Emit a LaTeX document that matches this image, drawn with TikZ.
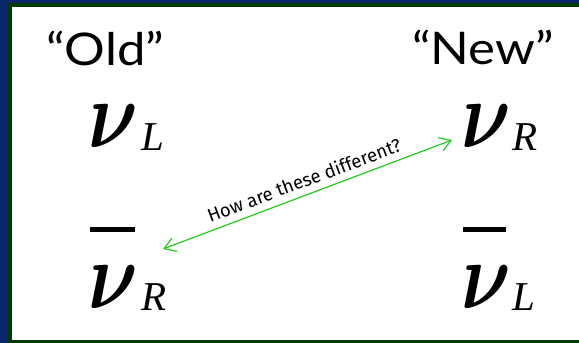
\documentclass[tikz,border=0pt]{standalone}
\usepackage{fontspec}
\usepackage{bm}
\usepackage{graphicx}
\setmainfont{Liberation Serif}
\newfontfamily\titlefont{Lato}
\newfontfamily\notefont{Fira Sans}
\usetikzlibrary{arrows.meta}
\definecolor{navybg}{RGB}{12,38,108}
\definecolor{frame}{RGB}{0,58,0}
\definecolor{arrowgreen}{RGB}{34,204,34}
\newcommand{\bignu}{\scalebox{7.7}[9.6]{$\bm{\nu}$}}
\tikzset{
  heading/.style={anchor=base west, inner sep=0pt, xscale=1.13, font=\titlefont\fontsize{45}{45}\selectfont},
  nu/.style={anchor=base west, inner sep=0pt},
  sub/.style={anchor=base west, inner sep=0pt, font=\fontsize{41}{41}\selectfont\itshape},
  barline/.style={line width=4.5pt, black},
  link/.style={draw=arrowgreen, line width=1.2pt, {Straight Barb[length=11pt,width=14pt]}-{Straight Barb[length=11pt,width=14pt]}},
  note/.style={inner sep=0pt, font=\notefont\fontsize{18.5}{18.5}\selectfont}
}
\begin{document}
\begin{tikzpicture}[x=1pt,y=-1pt]
\useasboundingbox (0,0) rectangle (579,343);
\fill[navybg] (0,0) rectangle (579,343);
\fill[frame] (8,3) rectangle (579,343);
\fill[white] (12,7) rectangle (579,340);
% headings
\node[heading] (old) at (46,65) {“Old”};
\node[heading] (new) at (412,64) {“New”};
% left column
\node[nu] (nuL1) at (88,147) {\bignu};
\node[sub] (L1) at (141,150) {L};
\draw[barline] (90,229.5) -- (135,229.5);
\node[nu] (nuR1) at (88,308) {\bignu};
\node[sub] (R1) at (141,310) {R};
% right column
\node[nu] (nuR2) at (461,147) {\bignu};
\node[sub] (R2) at (512,150) {R};
\draw[barline] (463,229.5) -- (506,229.5);
\node[nu] (nuL2) at (461,308) {\bignu};
\node[sub] (L2) at (512,310) {L};
% arrow
\coordinate (pL) at (163,249);
\coordinate (pR) at (452,140);
\draw[link] (pL) -- (pR);
\node[note, rotate=20.5] (q) at (304,180) {How are these different?};
\end{tikzpicture}
\end{document}
